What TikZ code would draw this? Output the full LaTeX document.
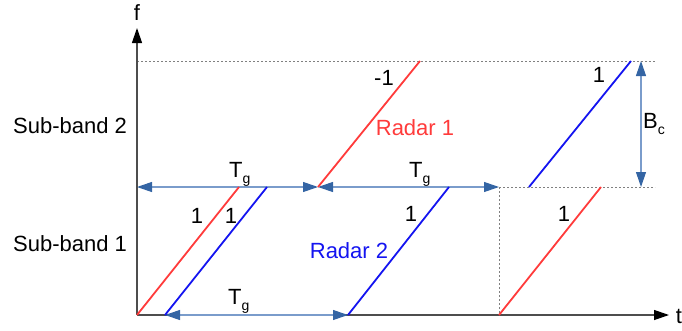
\documentclass[tikz,border=0pt]{standalone}
\usepackage{fontspec}
\setmainfont{Liberation Sans}
\usetikzlibrary{arrows.meta}
\definecolor{rred}{HTML}{FF3B3B}
\definecolor{rblue}{HTML}{1414F0}
\definecolor{arrline}{HTML}{7A9CCB}
\definecolor{arrtip}{HTML}{3465A4}
\definecolor{axisc}{HTML}{4D4D4D}
\newcommand{\lowsub}[1]{\raisebox{-6pt}{\fontsize{14}{16}\selectfont #1}}
\begin{document}
\begin{tikzpicture}[x=1pt,y=-1pt,
  lbl/.style={font=\fontsize{22}{26}\selectfont, inner sep=0pt},
  chirpR/.style={draw=rred, line width=1.8pt},
  chirpB/.style={draw=rblue, line width=1.8pt},
  dimarrow/.style={draw=arrline, line width=1.1pt,
    {Triangle[length=15pt,width=10pt,color=arrtip]}-{Triangle[length=15pt,width=10pt,color=arrtip]}},
  axisline/.style={draw=axisc, line width=1.2pt, -{Triangle[length=15pt,width=10pt,color=black]}},
  guide/.style={draw=gray, line width=0.8pt, dash pattern=on 2pt off 2pt}]
\useasboundingbox (0,0) rectangle (682,330);
% coordinates
\coordinate (O) at (137,315);
\coordinate (ftip) at (137,28);
\coordinate (ttip) at (669,315);
\coordinate (T0) at (137,61);
\coordinate (T1) at (655,61);
\coordinate (M0) at (499,187);
\coordinate (M1) at (655,187);
\coordinate (V1) at (499,315);
\coordinate (R1a) at (137,315); \coordinate (R1b) at (239,187);
\coordinate (B1a) at (165,315); \coordinate (B1b) at (267,187);
\coordinate (R2a) at (318,187); \coordinate (R2b) at (420,61);
\coordinate (B2a) at (348,315); \coordinate (B2b) at (449,187);
\coordinate (B3a) at (529,187); \coordinate (B3b) at (631,61);
\coordinate (R3a) at (499,315); \coordinate (R3b) at (601,187);
\coordinate (A1a) at (137,187);
\coordinate (A3a) at (165,315); \coordinate (A3b) at (348,315);
\coordinate (Bca) at (641,61); \coordinate (Bcb) at (641,187);
% guides
\draw[guide] (T0) -- (T1);
\draw[guide] (M0) -- (M1);
\draw[guide] (M0) -- (V1);
% dimension arrows
\draw[dimarrow] (A1a) -- (R2a);
\draw[dimarrow] (R2a) -- (M0);
\draw[dimarrow] (Bca) -- (Bcb);
% axes
\draw[axisline] (O) -- (ftip);
\draw[axisline] (O) -- (ttip);
\draw[dimarrow] (A3a) -- (A3b);
% chirps
\draw[chirpR] (R1a) -- (R1b);
\draw[chirpB] (B1a) -- (B1b);
\draw[chirpR] (R2a) -- (R2b);
\draw[chirpB] (B2a) -- (B2b);
\draw[chirpB] (B3a) -- (B3b);
\draw[chirpR] (R3a) -- (R3b);
% labels
\node[lbl] (lf) at (137,13) {f};
\node[lbl] (lt) at (679,316) {t};
\node[lbl] (sb2) at (70,126) {Sub-band 2};
\node[lbl] (sb1) at (70,244) {Sub-band 1};
\node[lbl] (m1) at (384,78) {-1};
\node[lbl, text=rred] (rad1) at (415,128) {Radar 1};
\node[lbl, text=rblue] (rad2) at (349,251) {Radar 2};
\node[lbl] (o1) at (197,216) {1};
\node[lbl] (o2) at (231,216) {1};
\node[lbl] (o3) at (411,214) {1};
\node[lbl] (o4) at (564,214) {1};
\node[lbl] (o5) at (599,75) {1};
\node[lbl, anchor=base west] (tg1) at (229,177) {T\lowsub{g}};
\node[lbl, anchor=base west] (tg2) at (409,177) {T\lowsub{g}};
\node[lbl, anchor=base west] (tg3) at (228,304) {T\lowsub{g}};
\node[lbl, anchor=base west] (bc) at (643,128) {B\lowsub{c}};
\end{tikzpicture}
\end{document}
